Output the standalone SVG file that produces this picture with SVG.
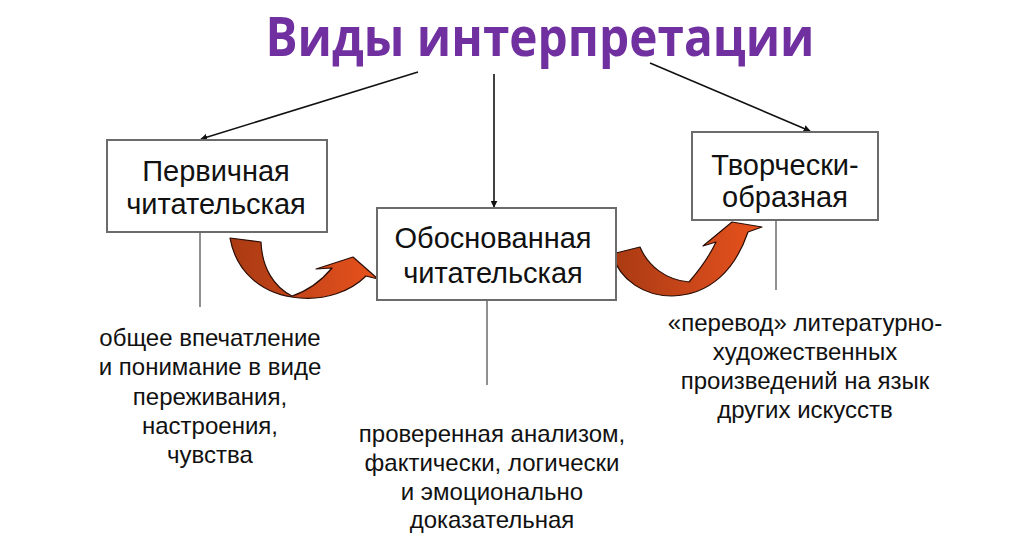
<svg xmlns="http://www.w3.org/2000/svg" width="1024" height="539" viewBox="0 0 1024 539">
<defs>
<marker id="ah" viewBox="0 0 10 10" refX="9" refY="5" markerWidth="7" markerHeight="7" markerUnits="userSpaceOnUse" orient="auto">
<path d="M0,0 L10,5 L0,10 Z" fill="#111"/>
</marker>
<linearGradient id="og" x1="0" y1="0" x2="1" y2="0">
<stop offset="0" stop-color="#A93A12"/>
<stop offset="0.5" stop-color="#C8461A"/>
<stop offset="1" stop-color="#E8521C"/>
</linearGradient>
<style>
.box{fill:#fff;stroke:#6b6b6b;stroke-width:2}
.bt{font-family:"Liberation Sans",Arial,sans-serif;font-size:29px;fill:#111;text-anchor:middle}
.nt{font-family:"Liberation Sans",Arial,sans-serif;font-size:24px;fill:#111;text-anchor:middle}
.con{stroke:#111;stroke-width:1.6;fill:none;marker-end:url(#ah)}
.stem{stroke:#6b6b6b;stroke-width:1.5;fill:none}
.curve{fill:url(#og);stroke:#2a0d05;stroke-width:1.2;stroke-linejoin:round}
</style>
</defs>
<rect width="1024" height="539" fill="#fff"/>
<text x="540" y="56" font-family="'Open Sans','DejaVu Sans',sans-serif" font-weight="bold" font-size="53" fill="#7030A0" text-anchor="middle" textLength="549" lengthAdjust="spacingAndGlyphs">Виды интерпретации</text>
<g id="connectors">
<line class="con" x1="418" y1="72" x2="201" y2="139"/>
<line class="con" x1="494" y1="74" x2="494" y2="207"/>
<line class="con" x1="650" y1="63" x2="810" y2="131"/>
<line class="stem" x1="200" y1="232" x2="200" y2="307"/>
<line class="stem" x1="487" y1="300" x2="487" y2="385"/>
<line class="stem" x1="776" y1="220" x2="776" y2="290"/>
<path class="curve" d="M230,238 L261,242 C262,268 274,287 292,296 C310,290 322,280 332,268 L316,269 L353,257 L378,279 L366,276 C350,292 325,300 300,298 C262,295 236,272 230,238 Z"/>
<path class="curve" d="M612,254 L640,247 C648,266 666,280 689,282 C701,268 710,255 716,242 L703,246 L732,222 L762,227 L748,232 C735,270 710,295 672,296 C645,296 620,281 612,254 Z"/>
</g>
<g id="node-primary">
<rect class="box" x="107" y="140" width="220" height="92"/>
<text class="bt" x="216" y="181">Первичная</text>
<text class="bt" x="216" y="214">читательская</text>
</g>
<g id="node-grounded">
<rect class="box" x="377" y="208" width="239" height="92"/>
<text class="bt" x="493" y="248">Обоснованная</text>
<text class="bt" x="493" y="283">читательская</text>
</g>
<g id="node-creative">
<rect class="box" x="692" y="132" width="186" height="88"/>
<text class="bt" x="785" y="175">Творчески-</text>
<text class="bt" x="785" y="207">образная</text>
</g>
<g id="note-primary">
<text class="nt" x="210" y="346">общее впечатление</text>
<text class="nt" x="210" y="375">и понимание в виде</text>
<text class="nt" x="210" y="405">переживания,</text>
<text class="nt" x="210" y="434">настроения,</text>
<text class="nt" x="210" y="463">чувства</text>
</g>
<g id="note-grounded">
<text class="nt" x="492" y="442">проверенная анализом,</text>
<text class="nt" x="492" y="471">фактически, логически</text>
<text class="nt" x="492" y="500">и эмоционально</text>
<text class="nt" x="492" y="528">доказательная</text>
</g>
<g id="note-creative">
<text class="nt" x="805" y="331">«перевод» литературно-</text>
<text class="nt" x="805" y="360">художественных</text>
<text class="nt" x="805" y="389">произведений на язык</text>
<text class="nt" x="805" y="418">других искусств</text>
</g>
</svg>
